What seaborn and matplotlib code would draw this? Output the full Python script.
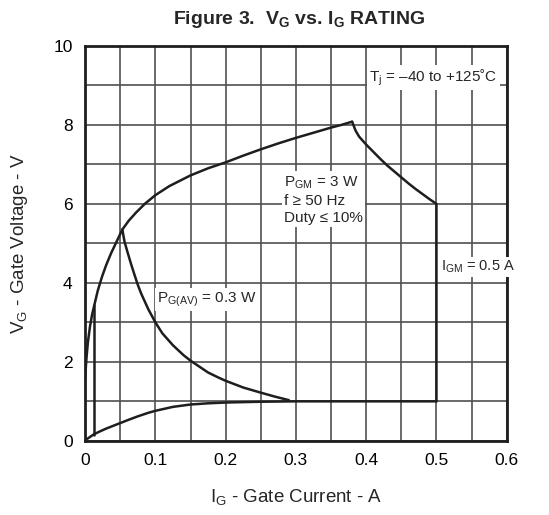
import numpy as np
import pandas as pd
import seaborn as sns
import matplotlib.pyplot as plt
from matplotlib.ticker import MultipleLocator

# Values (I in A, V in V)
outer_i = [0.0, 0.002, 0.004, 0.007, 0.01, 0.014, 0.018, 0.024, 0.03, 0.037, 0.045, 0.053,
           0.062, 0.072, 0.085, 0.1, 0.12, 0.15, 0.175, 0.2, 0.225, 0.25, 0.275, 0.3,
           0.325, 0.35, 0.365, 0.38]
outer_v = [1.6, 2.1, 2.5, 2.9, 3.2, 3.5, 3.8, 4.15, 4.45, 4.75, 5.05, 5.35,
           5.57, 5.77, 6.0, 6.22, 6.45, 6.72, 6.9, 7.05, 7.22, 7.38, 7.53, 7.67,
           7.8, 7.93, 8.0, 8.08]

pgm_i = [0.38, 0.385, 0.39, 0.4, 0.41, 0.42, 0.43, 0.44, 0.45, 0.46, 0.47, 0.48, 0.49, 0.5, 0.5]
pgm_v = [8.08, 7.85, 7.7, 7.5, 7.32, 7.14, 6.97, 6.82, 6.67, 6.52, 6.38, 6.25, 6.12, 6.0, 1.0]

bottom_i = [0.003, 0.012, 0.02, 0.03, 0.04, 0.05, 0.06, 0.075, 0.09, 0.1, 0.125, 0.15,
            0.175, 0.2, 0.25, 0.3, 0.5]
bottom_v = [0.05, 0.16, 0.23, 0.31, 0.38, 0.45, 0.52, 0.62, 0.71, 0.76, 0.86, 0.92,
            0.95, 0.97, 0.99, 1.0, 1.0]

gate_i = [0.012, 0.012]
gate_v = [0.15, 3.45]

pgav_i = [0.053, 0.056, 0.06, 0.065, 0.07, 0.075, 0.08, 0.09, 0.1, 0.11, 0.125, 0.14,
          0.15, 0.165, 0.175, 0.19, 0.2, 0.225, 0.25, 0.27, 0.29]
pgav_v = [5.35, 5.05, 4.8, 4.5, 4.22, 3.95, 3.72, 3.33, 3.0, 2.72, 2.42, 2.17,
          2.03, 1.85, 1.73, 1.6, 1.52, 1.35, 1.22, 1.12, 1.03]

x_ticks = [0, 0.1, 0.2, 0.3, 0.4, 0.5, 0.6]
x_labels = ['0', '0.1', '0.2', '0.3', '0.4', '0.5', '0.6']
y_ticks = [0, 2, 4, 6, 8, 10]

sns.set_style("white")
plt.rcParams['font.family'] = ['Liberation Sans', 'DejaVu Sans']
plt.rcParams['mathtext.fontset'] = 'custom'
plt.rcParams['mathtext.rm'] = 'Liberation Sans'
plt.rcParams['mathtext.bf'] = 'Liberation Sans:bold'

fig = plt.figure(figsize=(5.49, 5.15), dpi=100)
ax = fig.add_axes([0.155, 0.144, 0.768, 0.767])

line_kw = dict(color='#1e1e1e', linewidth=1.8, sort=False, estimator=None, ax=ax, zorder=3)
for xs, ys in [(outer_i, outer_v), (pgm_i, pgm_v), (bottom_i, bottom_v),
               (gate_i, gate_v), (pgav_i, pgav_v)]:
    sns.lineplot(x=xs, y=ys, **line_kw)

ax.set_xlim(0, 0.6)
ax.set_ylim(0, 10)
ax.set_xticks(x_ticks)
ax.set_xticklabels(x_labels)
ax.set_yticks(y_ticks)
ax.xaxis.set_minor_locator(MultipleLocator(0.05))
ax.yaxis.set_minor_locator(MultipleLocator(1))
ax.grid(True, which='both', color='#505050', linewidth=1.2, zorder=1)
ax.set_axisbelow(True)
ax.tick_params(which='both', length=0, labelsize=12.5, pad=9, colors='black')
for s in ax.spines.values():
    s.set_color('#1e1e1e')
    s.set_linewidth(2)

ax.set_xlabel(r'I$_\mathregular{G}$ - Gate Current - A', fontsize=13.5, labelpad=14)
ax.set_ylabel(r'V$_\mathregular{G}$ - Gate Voltage - V', fontsize=13.5, labelpad=17)
fig.suptitle(r'Figure 3.  V$_\mathbf{G}$ vs. I$_\mathbf{G}$ RATING', x=0.545, y=0.982,
             fontsize=14, fontweight='bold')

box = dict(facecolor='white', edgecolor='none', pad=1.5)
ax.text(0.587, 9.2, r'T$_\mathregular{j}$ = –40 to +125˚C', ha='right', va='center',
        fontsize=11, bbox=box, zorder=4)
ax.text(0.283, 6.1, 'P$_\\mathregular{GM}$ = 3 W\nf ≥ 50 Hz\nDuty ≤ 10%', ha='left', va='center',
        multialignment='left', fontsize=11, linespacing=1.25, bbox=box, zorder=4)
ax.text(0.506, 4.4, r'I$_\mathregular{GM}$ = 0.5 A', ha='left', va='center',
        fontsize=10.5, bbox=box, zorder=4)
ax.text(0.103, 3.58, r'P$_\mathregular{G(AV)}$ = 0.3 W', ha='left', va='center',
        fontsize=11, bbox=box, zorder=4)

fig.savefig('out.png', dpi=100)
